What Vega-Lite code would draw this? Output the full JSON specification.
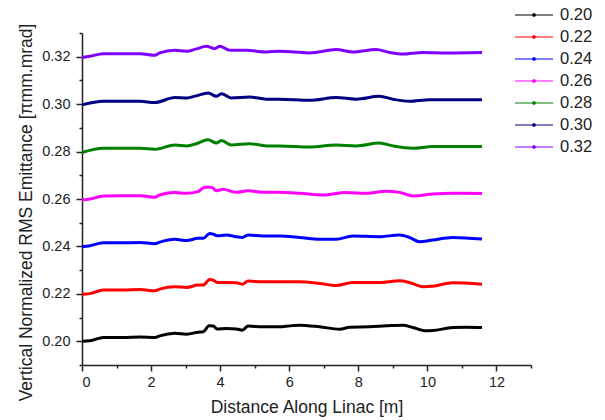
{
  "$schema": "https://vega.github.io/schema/vega-lite/v6.json",
  "width": 449,
  "height": 332,
  "autosize": "none",
  "padding": {"left": 82, "top": 33, "right": 74, "bottom": 55},
  "background": "white",
  "config": {
    "font": "Liberation Sans",
    "view": {"stroke": null},
    "axis": {"domainColor": "#222", "domainWidth": 1.5, "tickColor": "#222", "tickWidth": 1.5, "labelColor": "#222", "titleColor": "#222", "labelFontSize": 14.5, "titleFontSize": 17.5, "titleFontWeight": "normal", "grid": false, "labelFont": "Liberation Sans", "titleFont": "Liberation Sans"}
  },
  "data": {"values": [
    {"s":"0.20","x":0,"y":0.2000},{"s":"0.20","x":0.23,"y":0.2002},{"s":"0.20","x":0.62,"y":0.2016},{"s":"0.20","x":1.19,"y":0.2016},{"s":"0.20","x":1.68,"y":0.2018},{"s":"0.20","x":2.11,"y":0.2016},{"s":"0.20","x":2.25,"y":0.2023},{"s":"0.20","x":2.69,"y":0.2034},{"s":"0.20","x":3.03,"y":0.2030},{"s":"0.20","x":3.36,"y":0.2038},{"s":"0.20","x":3.51,"y":0.2040},{"s":"0.20","x":3.68,"y":0.2065},{"s":"0.20","x":3.80,"y":0.2064},{"s":"0.20","x":3.91,"y":0.2052},{"s":"0.20","x":4.18,"y":0.2054},{"s":"0.20","x":4.47,"y":0.2052},{"s":"0.20","x":4.64,"y":0.2047},{"s":"0.20","x":4.81,"y":0.2064},{"s":"0.20","x":5.24,"y":0.2061},{"s":"0.20","x":5.72,"y":0.2061},{"s":"0.20","x":6.01,"y":0.2065},{"s":"0.20","x":6.30,"y":0.2068},{"s":"0.20","x":6.88,"y":0.2061},{"s":"0.20","x":7.46,"y":0.2051},{"s":"0.20","x":7.75,"y":0.2059},{"s":"0.20","x":8.32,"y":0.2061},{"s":"0.20","x":8.81,"y":0.2065},{"s":"0.20","x":9.29,"y":0.2068},{"s":"0.20","x":9.58,"y":0.2058},{"s":"0.20","x":9.96,"y":0.2044},{"s":"0.20","x":10.15,"y":0.2045},{"s":"0.20","x":10.73,"y":0.2058},{"s":"0.20","x":11.12,"y":0.2059},{"s":"0.20","x":11.58,"y":0.2058},
    {"s":"0.22","x":0,"y":0.2198},{"s":"0.22","x":0.23,"y":0.2201},{"s":"0.22","x":0.62,"y":0.2216},{"s":"0.22","x":1.19,"y":0.2216},{"s":"0.22","x":1.68,"y":0.2218},{"s":"0.22","x":2.11,"y":0.2213},{"s":"0.22","x":2.25,"y":0.2220},{"s":"0.22","x":2.69,"y":0.2230},{"s":"0.22","x":3.03,"y":0.2227},{"s":"0.22","x":3.36,"y":0.2237},{"s":"0.22","x":3.51,"y":0.2237},{"s":"0.22","x":3.70,"y":0.2261},{"s":"0.22","x":3.80,"y":0.2258},{"s":"0.22","x":3.91,"y":0.2248},{"s":"0.22","x":4.18,"y":0.2248},{"s":"0.22","x":4.47,"y":0.2247},{"s":"0.22","x":4.64,"y":0.2241},{"s":"0.22","x":4.81,"y":0.2254},{"s":"0.22","x":5.24,"y":0.2251},{"s":"0.22","x":5.72,"y":0.2251},{"s":"0.22","x":6.30,"y":0.2251},{"s":"0.22","x":6.88,"y":0.2244},{"s":"0.22","x":7.36,"y":0.2235},{"s":"0.22","x":7.84,"y":0.2248},{"s":"0.22","x":8.61,"y":0.2248},{"s":"0.22","x":9.19,"y":0.2255},{"s":"0.22","x":9.48,"y":0.2248},{"s":"0.22","x":9.87,"y":0.2230},{"s":"0.22","x":10.15,"y":0.2232},{"s":"0.22","x":10.73,"y":0.2247},{"s":"0.22","x":11.58,"y":0.2241},
    {"s":"0.24","x":0,"y":0.2399},{"s":"0.24","x":0.23,"y":0.2403},{"s":"0.24","x":0.62,"y":0.2415},{"s":"0.24","x":1.19,"y":0.2415},{"s":"0.24","x":1.68,"y":0.2417},{"s":"0.24","x":2.11,"y":0.2411},{"s":"0.24","x":2.25,"y":0.2418},{"s":"0.24","x":2.69,"y":0.2430},{"s":"0.24","x":3.03,"y":0.2425},{"s":"0.24","x":3.36,"y":0.2434},{"s":"0.24","x":3.51,"y":0.2434},{"s":"0.24","x":3.70,"y":0.2455},{"s":"0.24","x":3.80,"y":0.2452},{"s":"0.24","x":3.91,"y":0.2445},{"s":"0.24","x":4.18,"y":0.2448},{"s":"0.24","x":4.47,"y":0.2441},{"s":"0.24","x":4.64,"y":0.2438},{"s":"0.24","x":4.81,"y":0.2448},{"s":"0.24","x":5.24,"y":0.2444},{"s":"0.24","x":5.72,"y":0.2444},{"s":"0.24","x":6.30,"y":0.2438},{"s":"0.24","x":6.88,"y":0.2430},{"s":"0.24","x":7.36,"y":0.2430},{"s":"0.24","x":7.84,"y":0.2444},{"s":"0.24","x":8.61,"y":0.2441},{"s":"0.24","x":9.19,"y":0.2448},{"s":"0.24","x":9.48,"y":0.2438},{"s":"0.24","x":9.77,"y":0.2420},{"s":"0.24","x":10.15,"y":0.2427},{"s":"0.24","x":10.73,"y":0.2438},{"s":"0.24","x":11.58,"y":0.2431},
    {"s":"0.26","x":0,"y":0.2596},{"s":"0.26","x":0.23,"y":0.2600},{"s":"0.26","x":0.62,"y":0.2613},{"s":"0.26","x":1.19,"y":0.2614},{"s":"0.26","x":1.68,"y":0.2614},{"s":"0.26","x":2.11,"y":0.2607},{"s":"0.26","x":2.25,"y":0.2617},{"s":"0.26","x":2.69,"y":0.2627},{"s":"0.26","x":3.03,"y":0.2624},{"s":"0.26","x":3.36,"y":0.2631},{"s":"0.26","x":3.55,"y":0.2650},{"s":"0.26","x":3.75,"y":0.2650},{"s":"0.26","x":3.89,"y":0.2635},{"s":"0.26","x":4.08,"y":0.2641},{"s":"0.26","x":4.47,"y":0.2628},{"s":"0.26","x":4.81,"y":0.2635},{"s":"0.26","x":5.24,"y":0.2628},{"s":"0.26","x":5.72,"y":0.2628},{"s":"0.26","x":6.30,"y":0.2624},{"s":"0.26","x":6.98,"y":0.2617},{"s":"0.26","x":7.65,"y":0.2627},{"s":"0.26","x":8.23,"y":0.2624},{"s":"0.26","x":8.81,"y":0.2633},{"s":"0.26","x":9.19,"y":0.2628},{"s":"0.26","x":9.58,"y":0.2613},{"s":"0.26","x":10.15,"y":0.2621},{"s":"0.26","x":10.73,"y":0.2624},{"s":"0.26","x":11.58,"y":0.2623},
    {"s":"0.28","x":0,"y":0.2796},{"s":"0.28","x":0.62,"y":0.2814},{"s":"0.28","x":1.68,"y":0.2814},{"s":"0.28","x":2.11,"y":0.2810},{"s":"0.28","x":2.69,"y":0.2828},{"s":"0.28","x":3.03,"y":0.2824},{"s":"0.28","x":3.31,"y":0.2833},{"s":"0.28","x":3.65,"y":0.2850},{"s":"0.28","x":3.89,"y":0.2836},{"s":"0.28","x":4.04,"y":0.2847},{"s":"0.28","x":4.32,"y":0.2828},{"s":"0.28","x":4.86,"y":0.2833},{"s":"0.28","x":5.34,"y":0.2824},{"s":"0.28","x":5.72,"y":0.2824},{"s":"0.28","x":6.59,"y":0.2819},{"s":"0.28","x":7.36,"y":0.2828},{"s":"0.28","x":7.94,"y":0.2824},{"s":"0.28","x":8.61,"y":0.2836},{"s":"0.28","x":9.00,"y":0.2824},{"s":"0.28","x":9.58,"y":0.2814},{"s":"0.28","x":10.15,"y":0.2821},{"s":"0.28","x":11.58,"y":0.2821},
    {"s":"0.30","x":0,"y":0.2997},{"s":"0.30","x":0.62,"y":0.3012},{"s":"0.30","x":1.68,"y":0.3012},{"s":"0.30","x":2.11,"y":0.3007},{"s":"0.30","x":2.69,"y":0.3028},{"s":"0.30","x":3.03,"y":0.3026},{"s":"0.30","x":3.31,"y":0.3035},{"s":"0.30","x":3.65,"y":0.3047},{"s":"0.30","x":3.89,"y":0.3033},{"s":"0.30","x":4.04,"y":0.3044},{"s":"0.30","x":4.32,"y":0.3026},{"s":"0.30","x":4.86,"y":0.3030},{"s":"0.30","x":5.34,"y":0.3021},{"s":"0.30","x":5.72,"y":0.3021},{"s":"0.30","x":6.59,"y":0.3016},{"s":"0.30","x":7.36,"y":0.3028},{"s":"0.30","x":7.94,"y":0.3021},{"s":"0.30","x":8.61,"y":0.3033},{"s":"0.30","x":9.00,"y":0.3021},{"s":"0.30","x":9.48,"y":0.3012},{"s":"0.30","x":10.06,"y":0.3019},{"s":"0.30","x":11.58,"y":0.3019},
    {"s":"0.32","x":0,"y":0.3197},{"s":"0.32","x":0.23,"y":0.3202},{"s":"0.32","x":0.62,"y":0.3213},{"s":"0.32","x":1.19,"y":0.3213},{"s":"0.32","x":1.68,"y":0.3213},{"s":"0.32","x":2.11,"y":0.3206},{"s":"0.32","x":2.25,"y":0.3216},{"s":"0.32","x":2.69,"y":0.3227},{"s":"0.32","x":3.03,"y":0.3223},{"s":"0.32","x":3.31,"y":0.3233},{"s":"0.32","x":3.60,"y":0.3244},{"s":"0.32","x":3.84,"y":0.3234},{"s":"0.32","x":3.99,"y":0.3244},{"s":"0.32","x":4.28,"y":0.3227},{"s":"0.32","x":4.76,"y":0.3227},{"s":"0.32","x":5.34,"y":0.3220},{"s":"0.32","x":5.72,"y":0.3223},{"s":"0.32","x":6.59,"y":0.3216},{"s":"0.32","x":7.36,"y":0.3230},{"s":"0.32","x":7.84,"y":0.3220},{"s":"0.32","x":8.52,"y":0.3230},{"s":"0.32","x":8.90,"y":0.3218},{"s":"0.32","x":9.29,"y":0.3211},{"s":"0.32","x":9.87,"y":0.3218},{"s":"0.32","x":10.54,"y":0.3216},{"s":"0.32","x":11.58,"y":0.3218}
  ]},
  "mark": {"type": "line", "interpolate": "monotone", "strokeWidth": 3},
  "encoding": {
    "x": {"field": "x", "type": "quantitative", "scale": {"domain": [0, 13], "nice": false},
      "axis": {"title": "Distance Along Linac [m]", "values": [0,1,2,3,4,5,6,7,8,9,10,11,12,13],
        "labelExpr": "datum.value % 2 == 0 ? datum.value : ''",
        "tickSize": {"condition": {"test": "datum.value % 2 == 0", "value": 6}, "value": 3},
        "labelPadding": 4, "titlePadding": 10}},
    "y": {"field": "y", "type": "quantitative", "scale": {"domain": [0.19, 0.33], "nice": false, "zero": false},
      "axis": {"title": "Vertical Normalized RMS Emittance [πmm.mrad]",
        "values": [0.19,0.2,0.21,0.22,0.23,0.24,0.25,0.26,0.27,0.28,0.29,0.3,0.31,0.32,0.33],
        "labelExpr": "round(datum.value*100) % 2 == 0 ? format(datum.value, '.2f') : ''",
        "tickSize": {"condition": {"test": "round(datum.value*100) % 2 == 0", "value": 6}, "value": 3},
        "labelPadding": 6, "titleX": -47, "titleY": 179}},
    "color": {"field": "s", "type": "nominal",
      "scale": {"domain": ["0.20","0.22","0.24","0.26","0.28","0.30","0.32"],
        "range": ["#000000","#ff0000","#0000ff","#ff00ff","#008000","#000080","#8000ff"]},
      "legend": {"title": null, "orient": "none", "legendX": 442, "legendY": -28,
        "symbolType": "M-2,0H2M-0.12,-0.12h0.24v0.24h-0.24z", "symbolSize": 361, "symbolStrokeWidth": 1,
        "labelFontSize": 16.5, "labelColor": "#222", "labelFont": "Liberation Sans", "labelOffset": 16, "rowPadding": 3, "labelLimit": 100,
        "encode": {"symbols": {"update": {"stroke": {"scale": "color", "field": "value"}, "fill": {"scale": "color", "field": "value"}}}}}}
  }
}
